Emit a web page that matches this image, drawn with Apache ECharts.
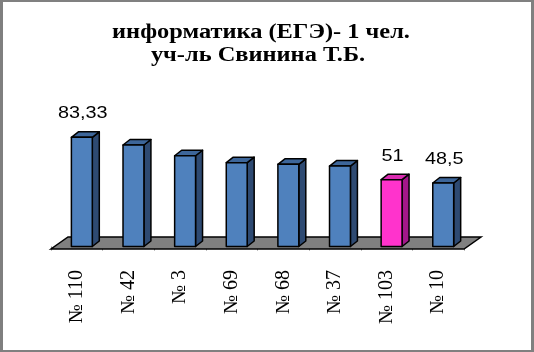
<!DOCTYPE html>
<html>
<head>
<meta charset="utf-8">
<script src="https://cdn.jsdelivr.net/npm/echarts@6/dist/echarts.min.js"></script>
<style>
  html, body { margin: 0; padding: 0; background: #ffffff; }
  #chart { position: absolute; left: 0; top: 0; width: 534px; height: 352px; }
  #frame { position: absolute; left: 0; top: 0; width: 534px; height: 352px; box-sizing: border-box;
           border-left: 3px solid #7f7f7f; border-top: 2px solid #808080; border-right: 3px solid #808080; border-bottom: 2px solid #808080; pointer-events: none; }
</style>
</head>
<body>
<div id="chart"></div>
<div id="frame"></div>
<script>
const titleLines = ['информатика (ЕГЭ)- 1 чел.', 'уч-ль Свинина Т.Б.'];
const categories = ['№ 110', '№ 42', '№ 3', '№ 69', '№ 68', '№ 37', '№ 103', '№ 10'];
const values = [83.33, 77.5, 69.3, 64, 62.7, 61.4, 51, 48.5];
const valueLabels = ['83,33', '', '', '', '', '', '51', '48,5'];
const highlighted = [false, false, false, false, false, false, true, false];

const blue = { front: '#4F81BD', side: '#2E4A72', top: '#3D669A' };
const pink = { front: '#FF33CC', side: '#A3178A', top: '#D92BB0' };

const chart = echarts.init(document.getElementById('chart'), null, { renderer: 'canvas' });

const barData = values.map((v, i) => [i, v]);

const titleFont = { fontFamily: 'Liberation Serif', fontWeight: 'bold', fontSize: 20.5, fill: '#000' };

chart.setOption({
  animation: false,
  backgroundColor: '#ffffff',
  graphic: [
    { type: 'text', x: 261, y: 32.5, scaleX: 1.19, z: 10,
      style: Object.assign({ text: titleLines[0], x: 0, y: 0, align: 'center', verticalAlign: 'middle' }, titleFont) },
    { type: 'text', x: 258, y: 56, scaleX: 1.19, z: 10,
      style: Object.assign({ text: titleLines[1], x: 0, y: 0, align: 'center', verticalAlign: 'middle' }, titleFont) }
  ],
  grid: { left: 51, right: 70, top: 115.5, bottom: 105.5 },
  xAxis: {
    type: 'category',
    data: categories,
    offset: 3.5,
    axisLine: { show: false },
    axisTick: { show: true, length: 4, lineStyle: { color: '#808080', width: 1 } },
    axisLabel: {
      rotate: 90,
      margin: 20,
      fontFamily: 'Liberation Serif',
      fontSize: 20,
      color: '#000'
    }
  },
  yAxis: {
    type: 'value',
    min: 0,
    max: 100,
    show: false,
    splitLine: { show: false }
  },
  series: [
    {
      type: 'custom',
      z: 1,
      data: [[0]],
      renderItem: function (params, api) {
        const cw = api.size([1, 0])[0];
        const l = api.coord([0, 0]);
        const r = api.coord([categories.length - 1, 0]);
        const x0 = l[0] - cw / 2, x1 = r[0] + cw / 2;
        const yf = l[1] + 2.5;
        const ddx = 17, ddy = -12;
        return {
          type: 'polygon',
          shape: { points: [[x0, yf], [x1, yf], [x1 + ddx, yf + ddy], [x0 + ddx, yf + ddy]] },
          style: { fill: '#808080', stroke: '#000', lineWidth: 1.5 }
        };
      }
    },
    {
      type: 'custom',
      z: 2,
      data: barData,
      renderItem: function (params, api) {
        const i = api.value(0);
        const v = api.value(1);
        const top = api.coord([i, v]);
        const base = api.coord([i, 0]);
        const cw = api.size([1, 0])[0];
        const fw = cw * 0.405;
        const xl = top[0] - cw * 0.105;
        const xr = xl + fw;
        const yt = top[1], yb = base[1];
        const dx = 7, dy = -5.5;
        const c = highlighted[i] ? pink : blue;
        const stroke = { stroke: '#000', lineWidth: 1.5, lineJoin: 'round' };
        const children = [
          { type: 'polygon', shape: { points: [[xr, yt], [xr + dx, yt + dy], [xr + dx, yb + dy], [xr, yb]] },
            style: Object.assign({ fill: c.side }, stroke) },
          { type: 'polygon', shape: { points: [[xl, yt], [xr, yt], [xr + dx, yt + dy], [xl + dx, yt + dy]] },
            style: Object.assign({ fill: c.top }, stroke) },
          { type: 'rect', shape: { x: xl, y: yt, width: fw, height: yb - yt },
            style: Object.assign({ fill: c.front }, stroke) }
        ];
        const lab = valueLabels[i];
        if (lab) {
          children.push({
            type: 'text',
            x: (xl + xr) / 2 + 1,
            y: yt - 15,
            scaleX: 1.2,
            style: {
              text: lab, x: 0, y: 0,
              align: 'center', verticalAlign: 'bottom',
              fontFamily: 'Liberation Sans', fontSize: 16.5, fill: '#000'
            }
          });
        }
        return { type: 'group', children: children };
      }
    }
  ]
});
</script>
</body>
</html>
